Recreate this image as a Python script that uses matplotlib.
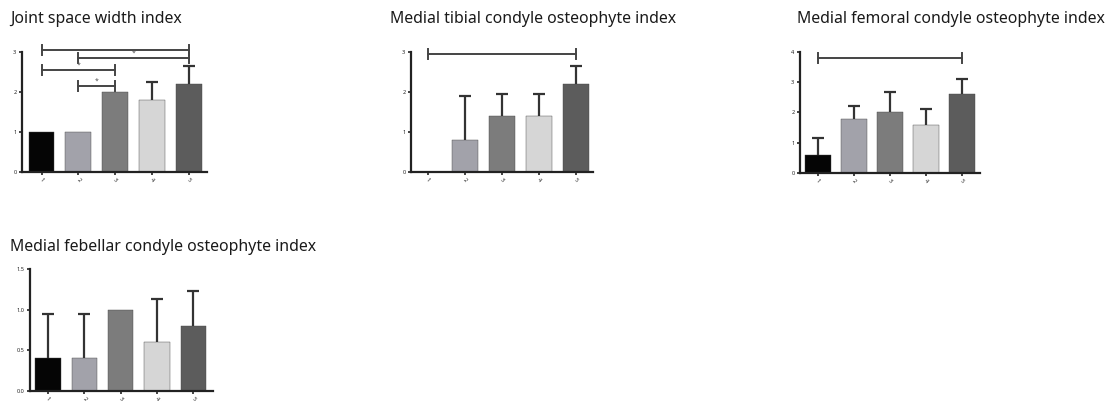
import numpy as np
import matplotlib.pyplot as plt
from matplotlib import rcParams

rcParams['font.family'] = ['Noto Sans', 'DejaVu Sans']

groups = ['1', '2', '3', '4', '5']
bar_colors = ['#050505', '#a2a2aa', '#7c7c7c', '#d6d6d6', '#5c5c5c']

titles = ['Joint space width index',
          'Medial tibial condyle osteophyte index',
          'Medial femoral condyle osteophyte index',
          'Medial febellar condyle osteophyte index']

joint_mean = [1.0, 1.0, 2.0, 1.8, 2.2]
joint_err = [0.0, 0.0, 0.0, 0.45, 0.45]
tibial_mean = [0.0, 0.8, 1.4, 1.4, 2.2]
tibial_err = [0.0, 1.1, 0.55, 0.55, 0.45]
femoral_mean = [0.6, 1.8, 2.0, 1.6, 2.6]
femoral_err = [0.55, 0.42, 0.68, 0.53, 0.5]
febellar_mean = [0.4, 0.4, 1.0, 0.6, 0.8]
febellar_err = [0.55, 0.55, 0.0, 0.53, 0.43]

# brackets: (start group, end group, height, star)
joint_brackets = [(1, 5, 3.05, ''), (2, 5, 2.85, '*'), (1, 3, 2.55, '*'), (2, 3, 2.15, '*')]
tibial_brackets = [(1, 5, 2.95, '')]
femoral_brackets = [(1, 5, 3.8, '')]
febellar_brackets = []

W, H = 1110, 401


def px_axes(fig, x0, x1, ytop, ybot):
    return fig.add_axes([x0 / W, 1 - ybot / H, (x1 - x0) / W, (ybot - ytop) / H])


def draw_panel(ax, means, errs, ylim, yticks, yticklabels, xlim, brackets):
    x = np.arange(1, len(groups) + 1)
    means = np.array(means)
    errs = np.array(errs)
    ax.bar(x, means, width=0.7, color=bar_colors, edgecolor='#444444', linewidth=0.3, zorder=2)
    m = errs > 0
    eb = ax.errorbar(x[m], means[m], yerr=[np.zeros(m.sum()), errs[m]], fmt='none',
                     ecolor='#333333', elinewidth=1.6, capsize=4, capthick=1.6, zorder=3)
    # upper error only: hide the cap that sits on the bar top
    for cap in eb[1]:
        if np.allclose(cap.get_ydata(), means[m]):
            cap.set_visible(False)
    ax.set_xlim(*xlim)
    ax.set_ylim(*ylim)
    ax.set_yticks(yticks)
    ax.set_yticklabels(yticklabels, fontsize=4, color='#444444')
    ax.set_xticks(x)
    ax.set_xticklabels(groups, fontsize=4, rotation=-45, color='#444444')
    for s in ['top', 'right']:
        ax.spines[s].set_visible(False)
    for s in ['left', 'bottom']:
        ax.spines[s].set_linewidth(1.6)
        ax.spines[s].set_color('#222222')
    ax.tick_params(width=1.2, length=2.5, pad=1.5, colors='#222222')
    for a, b, h, star in brackets:
        ax.plot([a, b], [h, h], color='#444444', lw=1.4, clip_on=False)
        dh = (ylim[1] - ylim[0]) * 0.04
        for xe in (a, b):
            ax.plot([xe, xe], [h - dh, h + dh], color='#444444', lw=1.4, clip_on=False)
        if star:
            ax.text((a + b) / 2, h + dh * 0.3, star, ha='center', va='bottom',
                    fontsize=5, color='#555555')


fig = plt.figure(figsize=(W / 100, H / 100), dpi=100)

ax1 = px_axes(fig, 22, 207, 52, 172)
draw_panel(ax1, joint_mean, joint_err, (0, 3), [0, 1, 2, 3], ['0', '1', '2', '3'],
           (0.47, 5.49), joint_brackets)

ax2 = px_axes(fig, 411, 593, 52, 172)
draw_panel(ax2, tibial_mean, tibial_err, (0, 3), [0, 1, 2, 3], ['0', '1', '2', '3'],
           (0.54, 5.46), tibial_brackets)

ax3 = px_axes(fig, 800, 980, 52, 173)
draw_panel(ax3, femoral_mean, femoral_err, (0, 4), [0, 1, 2, 3, 4], ['0', '1', '2', '3', '4'],
           (0.5, 5.5), femoral_brackets)

ax4 = px_axes(fig, 30, 213, 269, 391)
draw_panel(ax4, febellar_mean, febellar_err, (0, 1.5), [0, 0.5, 1.0, 1.5],
           ['0.0', '0.5', '1.0', '1.5'], (0.5, 5.54), febellar_brackets)

title_pos = [(10, 19), (390, 19), (797, 19), (10, 247)]
for t, (tx, ty) in zip(titles, title_pos):
    fig.text(tx / W, 1 - ty / H, t, ha='left', va='center', fontsize=11.4, color='#1a1a1a')

fig.savefig('out.png', dpi=100)
